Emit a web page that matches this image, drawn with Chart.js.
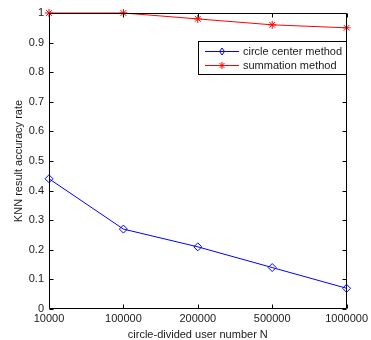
<!DOCTYPE html>
<html lang="en">
<head>
  <meta charset="UTF-8">
  <title>KNN result accuracy rate</title>
  <script src="https://cdn.jsdelivr.net/npm/chart.js"></script>
  <style>
    body { margin: 0; background: #fff; }
    #wrap { width: 371px; height: 340px; position: relative; }
  </style>
</head>
<body>
  <div id="wrap"><canvas id="grafica"></canvas></div>

  <script>
    // datos
    const categorias = ['10000', '100000', '200000', '500000', '1000000'];
    const circleCenter = [0.44, 0.27, 0.21, 0.14, 0.07];
    const summation = [1.0, 1.0, 0.98, 0.96, 0.95];
    const serieNombres = ['circle center method', 'summation method'];
    const yTicks = [0, 0.1, 0.2, 0.3, 0.4, 0.5, 0.6, 0.7, 0.8, 0.9, 1];

    const textColor = '#1a1a1a';
    const fuente = 'Liberation Sans, Arial, sans-serif';

    // marco, ticks interiores y leyenda estilo matlab
    const marco = {
      id: 'marco',
      afterDraw(chart) {
        const ctx = chart.ctx;
        const a = chart.chartArea;
        const xs = chart.scales.x, ys = chart.scales.y;
        const L = Math.round(a.left) + 0.5, R = Math.round(a.right) - 0.5;
        const T = Math.round(a.top) + 0.5, B = Math.round(a.bottom) - 0.5;
        ctx.save();
        ctx.strokeStyle = '#000';
        ctx.lineWidth = 1;
        ctx.beginPath();
        ctx.rect(L, T, R - L, B - T);
        const tl = 4;
        xs.ticks.forEach((t, i) => {
          const x = Math.round(xs.getPixelForTick(i)) + 0.5;
          ctx.moveTo(x, B); ctx.lineTo(x, B - tl);
          ctx.moveTo(x, T); ctx.lineTo(x, T + tl);
        });
        ys.ticks.forEach((t, i) => {
          const y = Math.round(ys.getPixelForTick(i)) + 0.5;
          ctx.moveTo(L, y); ctx.lineTo(L + tl, y);
          ctx.moveTo(R, y); ctx.lineTo(R - tl, y);
        });
        ctx.stroke();

        // leyenda
        const bx = 198.5, by = 41.5, bw = R - bx, bh = 33;
        ctx.fillStyle = '#fff';
        ctx.fillRect(bx, by, bw, bh);
        ctx.strokeRect(bx, by, bw, bh);
        ctx.font = '11px ' + fuente;
        ctx.textBaseline = 'middle';
        chart.data.datasets.forEach((ds, i) => {
          const y = 51 + i * 14 + 0.5;
          ctx.strokeStyle = ds.borderColor;
          ctx.beginPath();
          ctx.moveTo(205, y); ctx.lineTo(239, y);
          ctx.stroke();
          const cx = 222, r = 3.5;
          ctx.beginPath();
          if (ds.pointStyle === 'rectRot') {
            ctx.moveTo(cx, y - r); ctx.lineTo(cx + r * 0.7, y);
            ctx.lineTo(cx, y + r); ctx.lineTo(cx - r * 0.7, y);
            ctx.closePath();
          } else {
            ctx.moveTo(cx, y - r); ctx.lineTo(cx, y + r);
            ctx.moveTo(cx - r, y); ctx.lineTo(cx + r, y);
            ctx.moveTo(cx - r * 0.7, y - r * 0.7); ctx.lineTo(cx + r * 0.7, y + r * 0.7);
            ctx.moveTo(cx - r * 0.7, y + r * 0.7); ctx.lineTo(cx + r * 0.7, y - r * 0.7);
          }
          ctx.stroke();
          ctx.fillStyle = textColor;
          ctx.fillText(ds.label, 243, y);
        });
        ctx.restore();
      }
    };

    const ctx = document.getElementById('grafica').getContext('2d');
    new Chart(ctx, {
      type: 'line',
      data: {
        labels: categorias,
        datasets: [
          {
            label: serieNombres[0],
            data: circleCenter,
            borderColor: '#0000ff',
            backgroundColor: 'rgba(0,0,0,0)',
            borderWidth: 1,
            pointStyle: 'rectRot',
            pointRadius: 4,
            pointBorderWidth: 1,
            pointBorderColor: '#0000ff',
            pointBackgroundColor: 'rgba(0,0,0,0)',
            tension: 0
          },
          {
            label: serieNombres[1],
            data: summation,
            borderColor: '#ff0000',
            backgroundColor: 'rgba(0,0,0,0)',
            borderWidth: 1,
            pointStyle: 'star',
            pointRadius: 4,
            pointBorderWidth: 1,
            pointBorderColor: '#ff0000',
            tension: 0
          }
        ]
      },
      options: {
        responsive: true,
        maintainAspectRatio: false,
        animation: false,
        clip: false,
        layout: { padding: { top: 13, right: 22, left: 0, bottom: 0 } },
        plugins: { legend: { display: false }, tooltip: { enabled: false } },
        scales: {
          x: {
            type: 'category',
            offset: false,
            grid: { display: false, drawTicks: false },
            border: { display: false },
            afterFit: s => { s.height = 31; },
            ticks: {
              padding: 3,
              maxRotation: 0,
              autoSkip: false,
              color: textColor,
              font: { family: fuente, size: 11 }
            },
            title: {
              display: true,
              text: 'circle-divided user number N',
              color: textColor,
              padding: { top: 0, bottom: 0 },
              font: { family: fuente, size: 11, lineHeight: 1 }
            }
          },
          y: {
            min: 0,
            max: 1,
            grid: { display: false, drawTicks: false },
            border: { display: false },
            afterFit: s => { s.width = 49; },
            afterBuildTicks: s => { s.ticks = yTicks.map(v => ({ value: v })); },
            ticks: {
              padding: 5,
              color: textColor,
              font: { family: fuente, size: 11 },
              callback: v => String(Number(v.toFixed(1)))
            },
            title: {
              display: true,
              text: 'KNN result accuracy rate',
              color: textColor,
              padding: { top: 12, bottom: 0 },
              font: { family: fuente, size: 11 }
            }
          }
        }
      },
      plugins: [marco]
    });
  </script>
</body>
</html>
